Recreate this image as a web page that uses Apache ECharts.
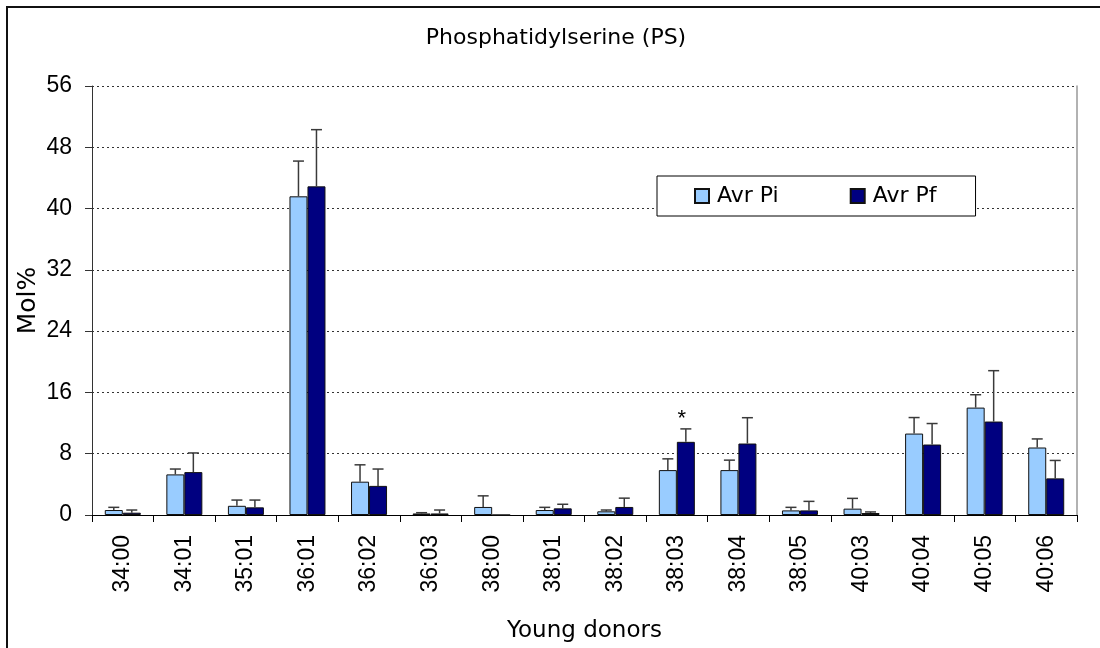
<!DOCTYPE html>
<html>
<head>
<meta charset="utf-8">
<title>Phosphatidylserine (PS)</title>
<script src="https://cdn.jsdelivr.net/npm/echarts@6/dist/echarts.min.js"></script>
<style>
  html, body { margin: 0; padding: 0; background: #fff; }
  #chart { width: 1100px; height: 648px; }
</style>
</head>
<body>
<div id="chart"></div>
<script>
// Species of phosphatidylserine (young donors)
const categories = ['34:00', '34:01', '35:01', '36:01', '36:02', '36:03', '38:00', '38:01',
                    '38:02', '38:03', '38:04', '38:05', '40:03', '40:04', '40:05', '40:06'];

// Mean mol% and standard deviation, initial (Pi) and final (Pf)
const avrPi = [0.65, 5.3, 1.2, 41.6, 4.35, 0.2, 1.05, 0.65, 0.48, 5.86, 5.86, 0.6, 0.83, 10.63, 14.02, 8.81];
const sdPi  = [0.35, 0.7, 0.75, 4.6, 2.2, 0.1, 1.45, 0.35, 0.17, 1.47, 1.3, 0.4, 1.34, 2.09, 1.68, 1.12];
const avrPf = [0.3, 5.6, 1.0, 42.9, 3.8, 0.2, 0, 0.87, 1.05, 9.55, 9.33, 0.6, 0.26, 9.2, 12.2, 4.78];
const sdPf  = [0.35, 2.5, 0.95, 7.4, 2.2, 0.45, 0, 0.53, 1.15, 1.69, 3.37, 1.18, 0.14, 2.74, 6.64, 2.34];
// Significance markers drawn above the Pf error bars
const pfMarks = ['', '', '', '', '', '', '', '', '', '*', '', '', '', '', '', ''];

const yTicks = { min: 0, max: 56, interval: 8 };

const BAR_W = 18;
const ERR_COLOR = '#3a3a3a';

function errorRenderer(offset) {
  return function (params, api) {
    const idx = api.value(0);
    const val = api.value(1);
    const err = api.value(2);
    const mark = api.value(3);
    const children = [];
    const base = api.coord([idx, val]);
    const top = api.coord([idx, val + err]);
    const x = base[0] + offset;
    if (err > 0) {
      const st = { stroke: ERR_COLOR, lineWidth: 1.5 };
      children.push({ type: 'line', shape: { x1: x, y1: base[1], x2: x, y2: top[1] }, style: st });
      children.push({ type: 'line', shape: { x1: x - 5.5, y1: top[1], x2: x + 5.5, y2: top[1] }, style: st });
    }
    if (mark) {
      children.push({
        type: 'text',
        style: {
          x: x - 4, y: top[1] + 1, text: mark, fill: '#000',
          font: '22px "Liberation Sans", Arial, sans-serif',
          align: 'center', verticalAlign: 'bottom'
        }
      });
    }
    return { type: 'group', children: children };
  };
}

const piErrData = categories.map((c, i) => [i, avrPi[i], sdPi[i], '']);
const pfErrData = categories.map((c, i) => [i, avrPf[i], sdPf[i], pfMarks[i]]);

const chart = echarts.init(document.getElementById('chart'), null, { renderer: 'canvas' });

const option = {
  animation: false,
  backgroundColor: '#fff',
  graphic: [{
    type: 'rect',
    shape: { x: 7, y: 7, width: 1200, height: 1000 },
    style: { fill: 'none', stroke: '#111', lineWidth: 2 },
    silent: true
  }],
  title: {
    text: 'Phosphatidylserine (PS)',
    left: 556,
    top: 27,
    textAlign: 'center',
    padding: 0,
    textStyle: { fontFamily: '"DejaVu Sans", sans-serif', fontSize: 22, fontWeight: 'normal', color: '#000' }
  },
  legend: {
    left: 657,
    top: 176,
    orient: 'horizontal',
    icon: 'rect',
    padding: [9, 39, 9, 37],
    itemGap: 71,
    itemWidth: 14,
    itemHeight: 14,
    borderColor: '#000',
    borderWidth: 1,
    backgroundColor: '#fff',
    textStyle: { fontFamily: '"DejaVu Sans", sans-serif', fontSize: 22, color: '#000', padding: [0, 0, 0, 3] },
    data: ['Avr Pi', 'Avr Pf']
  },
  grid: { left: 92, right: 23, top: 86, bottom: 132, containLabel: false },
  xAxis: {
    type: 'category',
    data: categories,
    name: 'Young donors',
    nameLocation: 'middle',
    nameGap: 105,
    nameMoveOverlap: false,
    nameTextStyle: { fontFamily: '"DejaVu Sans", sans-serif', fontSize: 23, color: '#000' },
    axisLine: { lineStyle: { color: '#000', width: 1 } },
    axisTick: { show: true, length: 7, lineStyle: { color: '#000' } },
    axisLabel: {
      interval: 0, rotate: 90, margin: 20,
      fontFamily: '"Liberation Sans", Arial, sans-serif', fontSize: 23, color: '#000'
    }
  },
  yAxis: [{
    type: 'value',
    min: yTicks.min, max: yTicks.max, interval: yTicks.interval,
    name: 'Mol%',
    nameLocation: 'middle',
    nameGap: 51,
    nameMoveOverlap: false,
    nameTextStyle: { fontFamily: '"DejaVu Sans", sans-serif', fontSize: 25, color: '#000' },
    axisLine: { show: true, lineStyle: { color: '#333', width: 1 } },
    axisTick: { show: true, length: 7, lineStyle: { color: '#333' } },
    axisLabel: { margin: 20, fontFamily: '"Liberation Sans", Arial, sans-serif', fontSize: 23, color: '#000' },
    splitLine: { show: true, lineStyle: { color: '#333', type: [2, 3], width: 1 } }
  }, {
    type: 'value',
    position: 'right',
    min: yTicks.min, max: yTicks.max, interval: yTicks.interval,
    axisLine: { show: true, lineStyle: { color: '#999', width: 1.5 } },
    axisTick: { show: false },
    axisLabel: { show: false },
    splitLine: { show: false }
  }],
  series: [
    {
      name: 'Avr Pi', type: 'bar', data: avrPi, barWidth: BAR_W, barGap: '0%',
      itemStyle: { color: '#99CCFF', borderColor: '#111', borderWidth: 1 }
    },
    {
      name: 'Avr Pf', type: 'bar', data: avrPf, barWidth: BAR_W, barGap: '0%',
      itemStyle: { color: '#000080', borderColor: '#111', borderWidth: 1 }
    },
    {
      name: 'Pi SD', type: 'custom', z: 3, data: piErrData,
      encode: { x: 0, y: 1 }, renderItem: errorRenderer(-BAR_W / 2)
    },
    {
      name: 'Pf SD', type: 'custom', z: 3, data: pfErrData,
      encode: { x: 0, y: 1 }, renderItem: errorRenderer(BAR_W / 2)
    }
  ]
};

chart.setOption(option);
</script>
</body>
</html>
